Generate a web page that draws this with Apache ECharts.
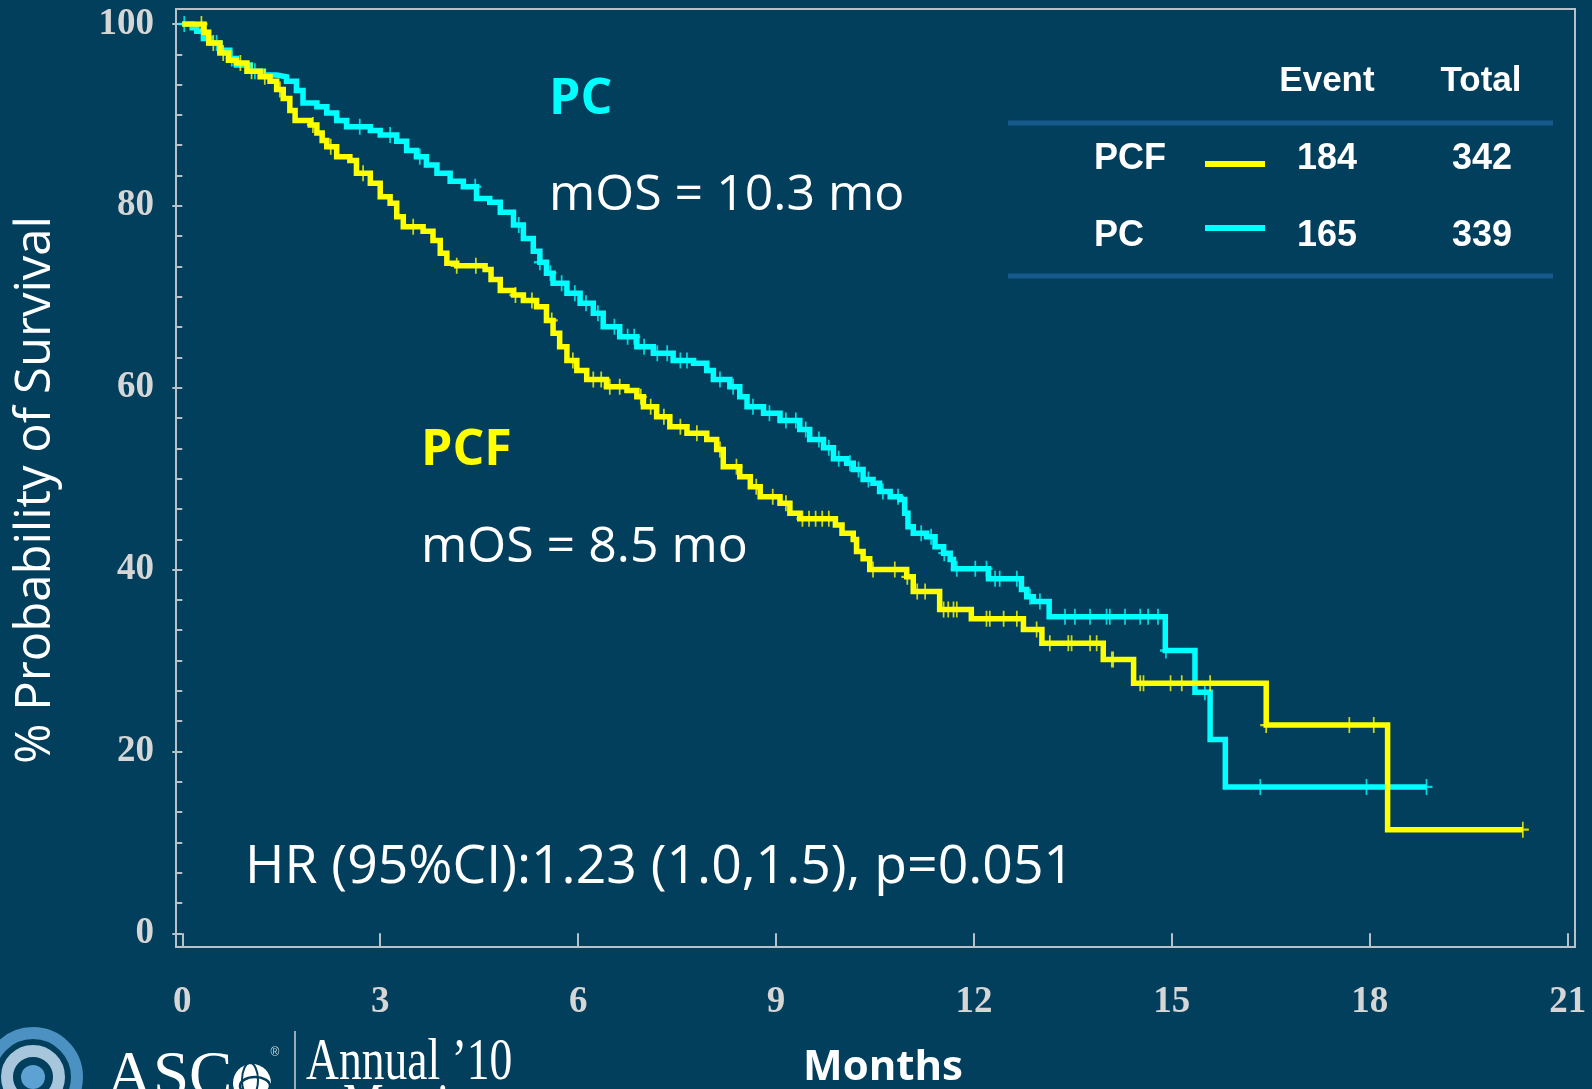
<!DOCTYPE html>
<html>
<head>
<meta charset="utf-8">
<title>Overall survival: PCF vs PC</title>
<script src="https://cdn.jsdelivr.net/npm/echarts@6/dist/echarts.min.js"></script>
<style>
  html, body { margin: 0; padding: 0; background: #023f5d; }
  #chart { width: 1592px; height: 1089px; }
</style>
</head>
<body>
<div id="chart"></div>
<script>
// Axis ticks
const monthTicks = [0, 3, 6, 9, 12, 15, 18, 21];
const survivalTicks = [0, 20, 40, 60, 80, 100];

// Kaplan-Meier steps: time (months) where the estimate changes, and the % surviving from then on
const pcfTimes = [0, 0.33, 0.40, 0.57, 0.70, 0.82, 0.98, 1.18, 1.33, 1.43, 1.53, 1.63, 1.71, 1.94, 2.04, 2.12, 2.19, 2.34, 2.54, 2.64,
  2.85, 3.00, 3.15, 3.25, 3.35, 3.65, 3.80, 3.91, 4.01, 4.16, 4.59, 4.68, 4.82, 5.02, 5.17, 5.37, 5.52, 5.62, 5.72, 5.83,
  5.98, 6.13, 6.43, 6.74, 6.89, 6.99, 7.19, 7.39, 7.65, 7.95, 8.10, 8.20, 8.45, 8.61, 8.76, 9.06, 9.21, 9.36, 9.90, 10.00,
  10.17, 10.22, 10.32, 10.42, 10.98, 11.08, 11.48, 11.96, 12.75, 13.03, 13.96, 14.42, 16.43, 18.27];
const pcfSurvival = [100, 99.1, 97.9, 96.8, 96.0, 95.7, 94.8, 94.2, 93.7, 92.8, 91.8, 90.5, 89.4, 88.9, 88.0, 87.2, 86.5, 85.4, 85.0, 83.6,
  82.5, 81.0, 80.3, 78.8, 77.7, 77.2, 76.2, 74.8, 73.7, 73.4, 73.0, 71.9, 70.7, 70.2, 69.6, 68.9, 67.4, 66.0, 64.5, 63.0,
  61.9, 60.9, 60.1, 59.7, 59.0, 57.9, 56.8, 55.7, 55.0, 54.3, 53.2, 51.3, 50.2, 49.1, 48.0, 47.3, 46.2, 45.6, 44.9, 44.0,
  43.3, 42.0, 41.2, 40.0, 39.2, 37.6, 35.6, 34.6, 33.4, 31.9, 30.1, 27.5, 22.9, 11.4];
const pcfCensored = [0.29, 0.47, 0.62, 0.88, 1.05, 1.25, 1.48, 1.98, 2.25, 2.74, 3.50, 4.16, 4.45, 5.05, 5.30, 5.60, 5.92, 6.23, 6.35, 6.48,
  6.63, 6.95, 7.10, 7.30, 7.55, 7.80, 8.15, 8.40, 8.70, 8.95, 9.15, 9.40, 9.50, 9.60, 9.70, 9.80, 10.47, 10.80, 10.99, 11.14,
  11.26, 11.54, 11.61, 11.69, 11.74, 12.19, 12.24, 12.45, 12.65, 12.95, 13.15, 13.43, 13.48, 13.76, 13.86, 14.09, 14.11, 14.52, 14.57, 14.98,
  15.15, 15.58, 16.43, 17.69, 18.06, 20.32];

const pcTimes = [0, 0.15, 0.22, 0.32, 0.42, 0.57, 0.72, 0.82, 1.03, 1.23, 1.43, 1.58, 1.73, 1.83, 2.04, 2.19, 2.34, 2.49, 2.85, 3.00,
  3.25, 3.40, 3.55, 3.70, 3.86, 4.06, 4.26, 4.46, 4.66, 4.82, 5.02, 5.17, 5.32, 5.42, 5.52, 5.62, 5.83, 6.03, 6.23, 6.38,
  6.63, 6.89, 7.14, 7.44, 7.75, 7.95, 8.05, 8.30, 8.45, 8.56, 8.81, 9.06, 9.36, 9.51, 9.72, 9.87, 10.07, 10.17, 10.32, 10.47,
  10.57, 10.73, 10.88, 10.95, 11.00, 11.08, 11.28, 11.41, 11.54, 11.64, 11.69, 12.22, 12.72, 12.80, 12.90, 13.14, 14.90, 15.35, 15.58, 15.81];
const pcSurvival = [100, 99.6, 99.2, 98.4, 97.9, 97.1, 96.2, 95.5, 94.8, 94.4, 94.2, 93.7, 92.7, 91.3, 90.9, 90.2, 89.4, 88.7, 88.3, 87.8,
  87.1, 86.1, 85.4, 84.5, 83.6, 82.7, 82.1, 80.8, 80.4, 79.3, 77.9, 76.4, 75.0, 73.8, 72.6, 71.5, 70.4, 69.3, 68.2, 66.7,
  65.6, 64.5, 63.8, 63.0, 62.7, 61.9, 60.9, 60.1, 59.0, 57.9, 57.2, 56.4, 55.4, 54.3, 53.4, 52.2, 51.7, 51.0, 49.9, 49.5,
  48.6, 48.0, 47.7, 46.2, 44.7, 44.0, 43.6, 42.5, 41.8, 41.1, 40.1, 39.0, 37.8, 37.0, 36.5, 34.8, 31.1, 26.5, 21.3, 16.1];
const pcCensored = [0.03, 0.52, 0.75, 1.10, 2.69, 3.15, 3.60, 4.44, 5.10, 5.42, 5.58, 5.75, 5.95, 6.12, 6.30, 6.55, 6.75, 6.85, 7.00, 7.20,
  7.35, 7.55, 7.65, 8.15, 8.35, 8.65, 8.90, 9.15, 9.30, 9.45, 9.65, 9.80, 9.95, 10.12, 10.25, 10.40, 10.62, 10.85, 11.20, 11.35,
  11.55, 11.74, 12.02, 12.19, 12.32, 12.39, 12.65, 12.85, 13.00, 13.38, 13.53, 13.76, 14.01, 14.06, 14.29, 14.52, 14.64, 14.79, 14.91, 15.50,
  16.34, 17.95, 18.86];

// Summary table
const groups = ['PCF', 'PC'];
const events = [184, 165];
const totals = [342, 339];
const medianOS = ['8.5', '10.3'];
const hrText = 'HR (95%CI):1.23 (1.0,1.5), p=0.051';

const YELLOW = '#ffff00';
const CYAN = '#00ffff';
const AXIS_GREY = '#b9c1c8';
const LABEL_GREY = '#d6d6d6';
const BG = '#023f5d';

// value of a right-continuous step function at time t
function survivalAt(times, surv, t) {
  let v = surv[0];
  for (let i = 0; i < times.length; i++) {
    if (times[i] <= t + 1e-9) v = surv[i]; else break;
  }
  return v;
}
function stepData(times, surv, censored) {
  const pts = times.map((t, i) => [t, surv[i]]);
  const last = Math.max(...censored);
  pts.push([last, surv[surv.length - 1]]);
  return pts;
}
function censorData(times, surv, censored) {
  return censored.map(t => [t, survivalAt(times, surv, t)]);
}

const plusSymbol = 'path://M6,0 L6,16 M0,8 L12,8';

const chart = echarts.init(document.getElementById('chart'), null, { renderer: 'canvas' });

const textFont = '"Open Sans", "Noto Sans", sans-serif';
const tableFont = '"Liberation Sans", Arial, sans-serif';
const serifFont = '"Liberation Serif", "DejaVu Serif", serif';

const graphics = [
  // plot frame
  { type: 'rect', silent: true, z: 1,
    shape: { x: 176, y: 9, width: 1399, height: 938 },
    style: { fill: 'none', stroke: AXIS_GREY, lineWidth: 2 } },
  // y axis title
  { type: 'text', x: 36, y: 490, rotation: Math.PI / 2, silent: true,
    style: { text: '% Probability of Survival', fill: '#ffffff', font: '49px ' + textFont,
             align: 'center', verticalAlign: 'middle' } },
  // x axis title
  { type: 'text', x: 883, y: 1068, silent: true,
    style: { text: 'Months', fill: '#ffffff', font: 'bold 42px ' + textFont,
             align: 'center', verticalAlign: 'middle' } },
  // group annotations
  { type: 'text', x: 549, y: 100, silent: true,
    style: { text: groups[1], fill: CYAN, font: 'bold 50px ' + textFont, verticalAlign: 'middle' } },
  { type: 'text', x: 549, y: 196, silent: true,
    style: { text: 'mOS = ' + medianOS[1] + ' mo', fill: '#ffffff', font: '50px ' + textFont, verticalAlign: 'middle' } },
  { type: 'text', x: 421, y: 451, silent: true,
    style: { text: groups[0], fill: YELLOW, font: 'bold 50px ' + textFont, verticalAlign: 'middle' } },
  { type: 'text', x: 421, y: 548, silent: true,
    style: { text: 'mOS = ' + medianOS[0] + ' mo', fill: '#ffffff', font: '50px ' + textFont, verticalAlign: 'middle' } },
  { type: 'text', x: 245, y: 868, silent: true,
    style: { text: hrText, fill: '#ffffff', font: '53.5px ' + textFont, verticalAlign: 'middle' } },
  // table header and rules
  { type: 'text', x: 1327, y: 81, silent: true,
    style: { text: 'Event', fill: '#ffffff', font: 'bold 35px ' + tableFont, align: 'center', verticalAlign: 'middle' } },
  { type: 'text', x: 1481, y: 81, silent: true,
    style: { text: 'Total', fill: '#ffffff', font: 'bold 35px ' + tableFont, align: 'center', verticalAlign: 'middle' } },
  { type: 'line', silent: true, shape: { x1: 1008, y1: 123, x2: 1553, y2: 123 },
    style: { stroke: '#17598a', lineWidth: 5 } },
  { type: 'line', silent: true, shape: { x1: 1008, y1: 276, x2: 1553, y2: 276 },
    style: { stroke: '#17598a', lineWidth: 5 } }
];

// table rows
const rowY = [159, 236];
const swatchY = [164, 228];
const rowColors = [YELLOW, CYAN];
groups.forEach((g, i) => {
  graphics.push(
    { type: 'text', x: 1094, y: rowY[i], silent: true,
      style: { text: g, fill: '#ffffff', font: 'bold 36px ' + tableFont, verticalAlign: 'middle' } },
    { type: 'line', silent: true, shape: { x1: 1205, y1: swatchY[i], x2: 1265, y2: swatchY[i] },
      style: { stroke: rowColors[i], lineWidth: 6 } },
    { type: 'text', x: 1327, y: rowY[i], silent: true,
      style: { text: String(events[i]), fill: '#ffffff', font: 'bold 36px ' + tableFont, align: 'center', verticalAlign: 'middle' } },
    { type: 'text', x: 1482, y: rowY[i], silent: true,
      style: { text: String(totals[i]), fill: '#ffffff', font: 'bold 36px ' + tableFont, align: 'center', verticalAlign: 'middle' } }
  );
});

// meeting logo, bottom left
graphics.push(
  { type: 'circle', silent: true, shape: { cx: 33, cy: 1077, r: 44 },
    style: { fill: 'none', stroke: '#4b91c2', lineWidth: 12 } },
  { type: 'circle', silent: true, shape: { cx: 33, cy: 1077, r: 26 },
    style: { fill: 'none', stroke: '#a7c6dc', lineWidth: 12 } },
  { type: 'circle', silent: true, shape: { cx: 33, cy: 1077, r: 12 },
    style: { fill: '#5da2d2' } },
  { type: 'text', x: 106, y: 1046, silent: true,
    style: { text: 'ASC', fill: '#ffffff', font: '65px ' + serifFont, verticalAlign: 'top' } },
  { type: 'circle', silent: true, shape: { cx: 252, cy: 1083, r: 19 },
    style: { fill: '#ffffff' } },
  { type: 'ellipse', silent: true, shape: { cx: 255, cy: 1086, rx: 15, ry: 9 },
    style: { fill: 'none', stroke: BG, lineWidth: 2.5 } },
  { type: 'ellipse', silent: true, shape: { cx: 250, cy: 1080, rx: 8, ry: 17 },
    style: { fill: 'none', stroke: BG, lineWidth: 2 } },
  { type: 'text', x: 275, y: 1053, silent: true,
    style: { text: '®', fill: '#cfd8e0', font: '12px ' + tableFont, align: 'center', verticalAlign: 'middle' } },
  { type: 'line', silent: true, shape: { x1: 295, y1: 1031, x2: 295, y2: 1089 },
    style: { stroke: '#c8d2da', lineWidth: 1.5 } },
  { type: 'text', x: 306, y: 1093, scaleX: 0.76, silent: true,
    style: { text: 'Annual \u201910', fill: '#ffffff', font: '60px ' + serifFont, verticalAlign: 'bottom' } },
  { type: 'text', x: 343, y: 1138, scaleX: 0.76, silent: true,
    style: { text: 'Meeting', fill: '#ffffff', font: '60px ' + serifFont, verticalAlign: 'bottom' } }
);

const option = {
  backgroundColor: BG,
  animation: false,
  grid: { left: 182.3, right: 24.3, top: 24, bottom: 155.7, containLabel: false },
  xAxis: {
    type: 'value', min: monthTicks[0], max: monthTicks[monthTicks.length - 1], interval: 3,
    offset: 14,
    axisLine: { show: false },
    axisTick: { show: true, length: 14, lineStyle: { color: AXIS_GREY, width: 2 } },
    axisLabel: { color: LABEL_GREY, fontFamily: serifFont, fontWeight: 'bold', fontSize: 37, margin: 37,
                 formatter: v => monthTicks.includes(v) ? String(v) : '' },
    splitLine: { show: false }
  },
  yAxis: {
    type: 'value', min: survivalTicks[0], max: survivalTicks[survivalTicks.length - 1], interval: 20,
    offset: 6.3,
    axisLine: { show: false },
    axisTick: { show: true, length: 10, lineStyle: { color: AXIS_GREY, width: 2 } },
    minorTick: { show: true, splitNumber: 6, length: 6, lineStyle: { color: AXIS_GREY, width: 2 } },
    axisLabel: { color: LABEL_GREY, fontFamily: serifFont, fontWeight: 'bold', fontSize: 37, margin: 22,
                 padding: [7, 0, 0, 0],
                 formatter: v => survivalTicks.includes(v) ? String(v) : '' },
    splitLine: { show: false }
  },
  graphic: graphics,
  series: [
    {
      name: 'PC', type: 'line', step: 'end', showSymbol: false, silent: true, z: 3,
      data: stepData(pcTimes, pcSurvival, pcCensored),
      lineStyle: { color: CYAN, width: 5.5, join: 'miter' }
    },
    {
      name: 'PC censored', type: 'scatter', silent: true, z: 3,
      data: censorData(pcTimes, pcSurvival, pcCensored),
      symbol: plusSymbol, symbolSize: [12, 16],
      itemStyle: { color: 'rgba(0,0,0,0)', borderColor: CYAN, borderWidth: 2 }
    },
    {
      name: 'PCF', type: 'line', step: 'end', showSymbol: false, silent: true, z: 4,
      data: stepData(pcfTimes, pcfSurvival, pcfCensored),
      lineStyle: { color: YELLOW, width: 5.5, join: 'miter' }
    },
    {
      name: 'PCF censored', type: 'scatter', silent: true, z: 4,
      data: censorData(pcfTimes, pcfSurvival, pcfCensored),
      symbol: plusSymbol, symbolSize: [12, 16],
      itemStyle: { color: 'rgba(0,0,0,0)', borderColor: YELLOW, borderWidth: 2 }
    }
  ]
};

chart.setOption(option);
</script>
</body>
</html>
